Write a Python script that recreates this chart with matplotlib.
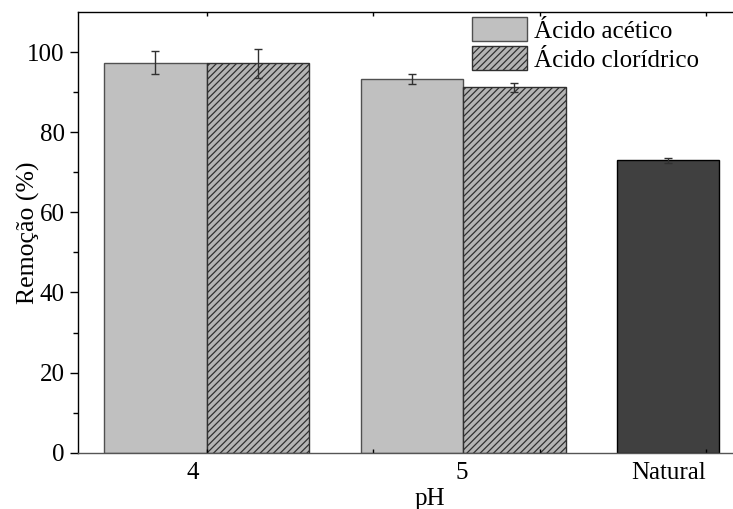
import matplotlib
matplotlib.use("Agg")
import matplotlib.pyplot as plt
import numpy as np

plt.rcParams['font.family'] = ['Liberation Serif', 'DejaVu Serif']
plt.rcParams['hatch.linewidth'] = 0.9
plt.rcParams['hatch.color'] = 'black'

# Data
groups = ["4", "5", "Natural"]
acetico = [97.3, 93.2]
acetico_err = [2.9, 1.2]
cloridrico = [97.2, 91.2]
cloridrico_err = [3.6, 1.2]
natural = [73.0]
natural_err = [0.6]

# bar positions (bar width = 1)
pos_acetico = [0, 2.5]
pos_cloridrico = [1, 3.5]
pos_natural = [5]
label_pos = [0.36, 2.99, 5.01]
tick_pos = [0.5, 2.12, 3.75, 5.37]

fig = plt.figure(figsize=(7.33, 5.09), dpi=100)
ax = fig.add_axes([78 / 733, 1 - 452.7 / 509, (733 - 78) / 733, (452.7 - 12) / 509])

err_kw = dict(ecolor='#303030', capsize=3, elinewidth=1, capthick=1)
ax.bar(pos_acetico, acetico, width=1, yerr=acetico_err, color='#c0c0c0',
       edgecolor='#505050', linewidth=1, error_kw=err_kw, label='Ácido acético')
ax.bar(pos_cloridrico, cloridrico, width=1, yerr=cloridrico_err, color='#b4b4b4',
       edgecolor='#303030', linewidth=1, hatch='/////', error_kw=err_kw,
       label='Ácido clorídrico')
ax.bar(pos_natural, natural, width=1, yerr=natural_err, color='#404040',
       edgecolor='black', linewidth=1, error_kw=err_kw)

ax.set_xlim(-0.756, 5.634)
ax.set_ylim(0, 110)
ax.set_yticks(np.arange(0, 101, 20))
ax.set_yticks(np.arange(10, 101, 20), minor=True)
ax.tick_params(axis='y', which='major', direction='out', length=6, width=1, labelsize=18)
ax.tick_params(axis='y', which='minor', direction='out', length=3.5, width=1)

ax.set_xticks(label_pos)
ax.set_xticklabels(groups)
ax.set_xticks(tick_pos, minor=True)
ax.tick_params(axis='x', which='major', length=0, labelsize=18, pad=7)
ax.tick_params(axis='x', which='minor', direction='in', length=3, width=1,
               top=True, bottom=True)

ax.spines['right'].set_visible(False)
for s in ['left', 'bottom', 'top']:
    ax.spines[s].set_linewidth(1)
ax.spines['bottom'].set_color('#555555')

ax.set_ylabel('Remoção (%)', fontsize=18.5)
ax.yaxis.set_label_coords(-0.058, 0.5)
ax.set_xlabel('pH', fontsize=18)
ax.xaxis.set_label_coords((430 - 78) / 655, -0.08)

ax.legend(loc='upper left', bbox_to_anchor=(472 / 733, 1 - 17 / 509),
          bbox_transform=fig.transFigure, frameon=False, fontsize=18,
          handlelength=2.2, handleheight=1.1, handletextpad=0.3,
          labelspacing=0.15, borderpad=0, borderaxespad=0)

fig.savefig('out.png', dpi=100)
